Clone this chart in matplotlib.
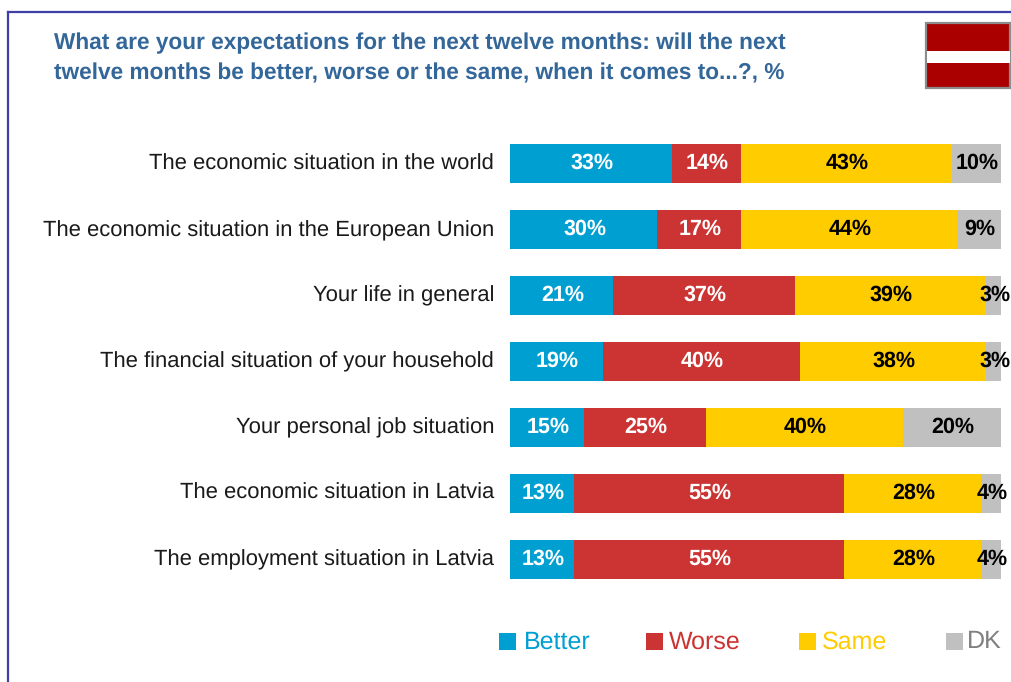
import matplotlib
matplotlib.use("Agg")
import matplotlib.pyplot as plt
from matplotlib.patches import Rectangle
from matplotlib.lines import Line2D

plt.rcParams['font.family'] = ['Liberation Sans', 'DejaVu Sans']
plt.rcParams['text.hinting'] = 'no_hinting'

categories = ["The economic situation in the world",
              "The economic situation in the European Union",
              "Your life in general",
              "The financial situation of your household",
              "Your personal job situation",
              "The economic situation in Latvia",
              "The employment situation in Latvia"]
better = [33, 30, 21, 19, 15, 13, 13]
worse = [14, 17, 37, 40, 25, 55, 55]
same = [43, 44, 39, 38, 40, 28, 28]
dk = [10, 9, 3, 3, 20, 4, 4]
series_names = ["Better", "Worse", "Same", "DK"]
series_values = [better, worse, same, dk]
colors = ["#009FD1", "#CC3333", "#FFCC00", "#C0C0C0"]
label_colors = ["white", "white", "black", "black"]
legend_text_colors = ["#009FD1", "#CC3333", "#FFCC00", "#808080"]
title_lines = ["What are your expectations for the next twelve months: will the next",
               "twelve months be better, worse or the same, when it comes to...?, %"]

W, H = 1012, 682
fig = plt.figure(figsize=(W / 100, H / 100), dpi=100, facecolor="white")

def px(x, y):
    return x / W, 1 - y / H

ax = fig.add_axes([510 / W, 1 - 592.5 / H, 491 / W, 462 / H])
ax.set_xlim(0, 100)
ax.set_ylim(6.5, -0.5)
ax.axis("off")

left = [0] * len(categories)
for vals, c, lc in zip(series_values, colors, label_colors):
    ax.barh(range(len(categories)), vals, left=left, height=0.59, color=c, linewidth=0)
    for i, v in enumerate(vals):
        ax.text(left[i] + v / 2 + 0.2, i, f"{v}%", ha="center", va="center",
                color=lc, fontsize=15.5, fontweight="bold", clip_on=False)
    left = [a + b for a, b in zip(left, vals)]

for i, cat in enumerate(categories):
    fig.text(494 / W, 1 - (164.5 + i * 65.8) / H, cat, ha="right", va="center",
             fontsize=15.8, color="#1a1a1a")

for y, line in zip([43.5, 73], title_lines):
    fig.text(54 / W, 1 - y / H, line, ha="left", va="center",
             fontsize=16.3, fontweight="bold", color="#336699")

frame = "#3F3FA8"
fig.add_artist(Line2D([8 / W, 8 / W], [0, 1 - 12 / H], color=frame, lw=1.6))
fig.add_artist(Line2D([8 / W, 1], [1 - 12 / H, 1 - 12 / H], color=frame, lw=1.6))

fig.add_artist(Rectangle(px(926, 88), 84.5 / W, 65 / H, facecolor="#AA0000",
                         edgecolor="#8C8C8C", lw=1.6, transform=fig.transFigure))
fig.add_artist(Rectangle(px(927, 63), 83 / W, 12 / H, facecolor="white",
                         edgecolor="none", transform=fig.transFigure))

leg_x = [499, 646, 799, 946]
txt_x = [524, 669, 822, 967]
for lx, tx, name, c, tc in zip(leg_x, txt_x, series_names, colors, legend_text_colors):
    fig.add_artist(Rectangle(px(lx, 650), 17 / W, 17 / H, facecolor=c,
                             edgecolor="none", transform=fig.transFigure))
    fig.text(tx / W, 1 - 642 / H, name, ha="left", va="center", fontsize=18, color=tc)

fig.savefig("out.png", dpi=100)
